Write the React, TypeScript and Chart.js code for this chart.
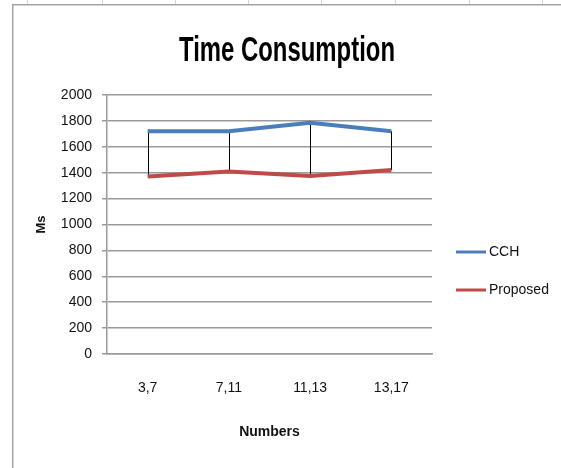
import React, { useEffect, useRef } from "react";
import { Chart, registerables } from "chart.js";

Chart.register(...registerables);

// Chart data
const categories = ["3,7", "7,11", "11,13", "13,17"];
const cchValues = [1720, 1720, 1785, 1720];
const proposedValues = [1370, 1410, 1375, 1420];
const yMin = 0;
const yMax = 2000;
const yStep = 200;

const chartTitle = "Time Consumption";
const xTitle = "Numbers";
const yTitle = "Ms";
const seriesNames = ["CCH", "Proposed"];
const seriesColors = ["#4A7EBB", "#BE4B48"];

const W = 561;
const H = 468;
const SANS = "'Liberation Sans', Arial, sans-serif";

// Sheet frame, title, high-low lines and legend
const decorPlugin = {
  id: "decor",
  beforeDraw(chart: any) {
    const ctx = chart.ctx;
    ctx.save();
    ctx.fillStyle = "#ffffff";
    ctx.fillRect(0, 0, W, H);
    // column markers above the frame
    ctx.strokeStyle = "#cdd6e2";
    ctx.lineWidth = 1;
    [27, 102, 175, 248, 321, 395, 469, 542].forEach((x) => {
      ctx.beginPath();
      ctx.moveTo(x + 0.5, 0);
      ctx.lineTo(x + 0.5, 4);
      ctx.stroke();
    });
    // frame
    ctx.strokeStyle = "#a3a3a3";
    ctx.lineWidth = 1.5;
    ctx.beginPath();
    ctx.moveTo(W, 4.75);
    ctx.lineTo(12.75, 4.75);
    ctx.lineTo(12.75, H);
    ctx.stroke();
    ctx.restore();
  },
  beforeDatasetsDraw(chart: any) {
    const ctx = chart.ctx;
    const xs = chart.scales.x;
    const ys = chart.scales.y;
    const a = chart.data.datasets[0].data as number[];
    const b = chart.data.datasets[1].data as number[];
    ctx.save();
    ctx.strokeStyle = "#000000";
    ctx.lineWidth = 1;
    a.forEach((v, i) => {
      const x = Math.round(xs.getPixelForValue(i)) + 0.5;
      ctx.beginPath();
      ctx.moveTo(x, ys.getPixelForValue(v));
      ctx.lineTo(x, ys.getPixelForValue(b[i]));
      ctx.stroke();
    });
    ctx.restore();
  },
  afterDraw(chart: any) {
    const ctx = chart.ctx;
    ctx.save();
    // title: tall, condensed lettering
    ctx.font = `bold 35px ${SANS}`;
    const tw = ctx.measureText(chartTitle).width;
    ctx.translate(287, 61);
    ctx.scale(216 / tw, 1);
    ctx.fillStyle = "#000000";
    ctx.textAlign = "center";
    ctx.textBaseline = "alphabetic";
    ctx.fillText(chartTitle, 0, 0);
    ctx.restore();

    // legend
    ctx.save();
    chart.data.datasets.forEach((ds: any, i: number) => {
      const y = 252 + i * 38;
      ctx.strokeStyle = ds.borderColor;
      ctx.lineWidth = 3;
      ctx.beginPath();
      ctx.moveTo(456, y);
      ctx.lineTo(486, y);
      ctx.stroke();
      ctx.font = `14px ${SANS}`;
      ctx.fillStyle = "#111111";
      ctx.textAlign = "left";
      ctx.textBaseline = "middle";
      ctx.fillText(ds.label, 489, y + 0.5);
    });
    ctx.restore();
  },
};

export default function App() {
  const canvasRef = useRef<HTMLCanvasElement | null>(null);

  useEffect(() => {
    const canvas = canvasRef.current;
    if (!canvas) return;
    const chart = new Chart(canvas, {
      type: "line",
      data: {
        labels: categories,
        datasets: [
          {
            label: seriesNames[0],
            data: cchValues,
            borderColor: seriesColors[0],
            backgroundColor: seriesColors[0],
            borderWidth: 4,
            pointRadius: 0,
            tension: 0,
          },
          {
            label: seriesNames[1],
            data: proposedValues,
            borderColor: seriesColors[1],
            backgroundColor: seriesColors[1],
            borderWidth: 4,
            pointRadius: 0,
            tension: 0,
          },
        ],
      },
      options: {
        responsive: false,
        animation: false,
        devicePixelRatio: 1,
        layout: { padding: { left: 20, top: 95, right: 129, bottom: 0 } },
        plugins: {
          legend: { display: false },
          title: { display: false },
          tooltip: { enabled: false },
        },
        scales: {
          x: {
            type: "category",
            offset: true,
            grid: { display: false, drawTicks: false },
            border: { display: true, color: "#9a9a9a", width: 1.5 },
            ticks: {
              padding: 26,
              color: "#111111",
              font: { family: SANS, size: 14 },
              maxRotation: 0,
            },
            title: {
              display: true,
              text: xTitle,
              color: "#111111",
              font: { family: SANS, size: 14, weight: "bold" },
              padding: { top: 0, bottom: 27.5 },
            },
            afterFit(scale: any) {
              scale.height = H - 354;
            },
          },
          y: {
            min: yMin,
            max: yMax,
            grid: {
              color: "#9a9a9a",
              lineWidth: 1.5,
              drawTicks: true,
              tickLength: 5,
              tickColor: "#9a9a9a",
            },
            border: { display: true, color: "#9a9a9a", width: 1.5 },
            ticks: {
              stepSize: yStep,
              padding: 10,
              color: "#111111",
              font: { family: SANS, size: 14 },
              callback: (v: any) => String(v),
            },
            title: {
              display: true,
              text: yTitle,
              color: "#111111",
              font: { family: SANS, size: 13, weight: "bold" },
              padding: { top: 14, bottom: 0 },
            },
            afterFit(scale: any) {
              scale.width = 87;
            },
          },
        },
      },
      plugins: [decorPlugin],
    });
    return () => chart.destroy();
  }, []);

  return (
    <div
      style={{
        position: "absolute",
        left: 0,
        top: 0,
        width: W,
        height: H,
        background: "#ffffff",
      }}
    >
      <canvas ref={canvasRef} width={W} height={H} style={{ display: "block" }} />
    </div>
  );
}
